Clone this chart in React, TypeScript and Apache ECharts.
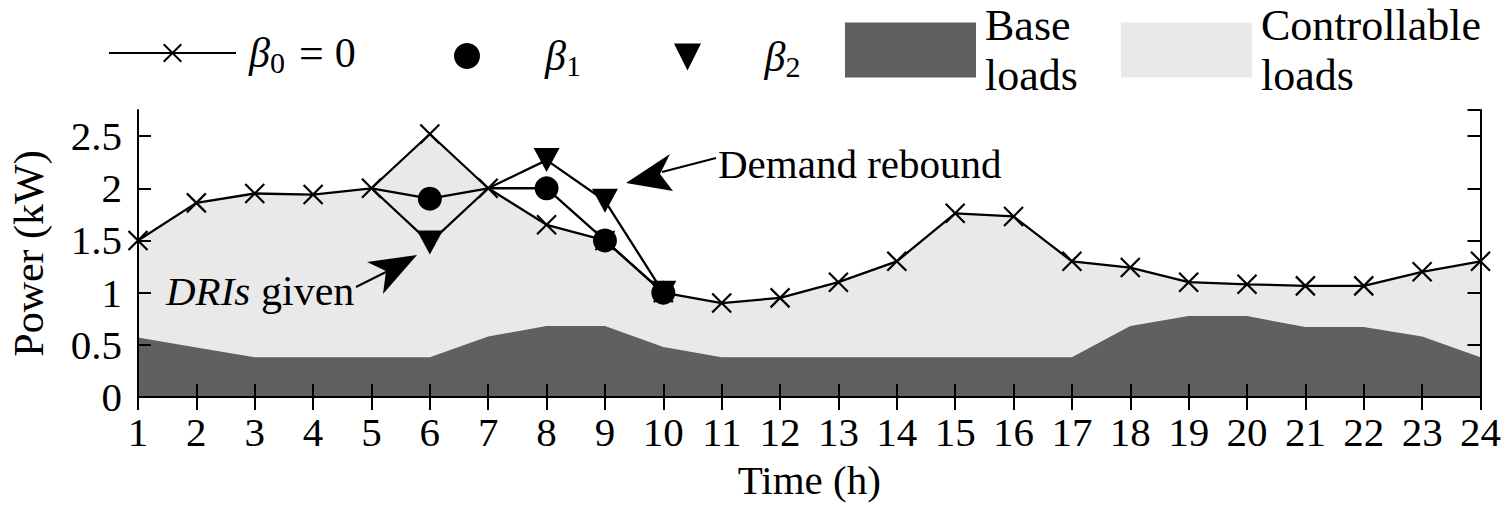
import React, { useEffect, useRef } from "react";
import * as echarts from "echarts";

const hours = [1, 2, 3, 4, 5, 6, 7, 8, 9, 10, 11, 12, 13, 14, 15, 16, 17, 18, 19, 20, 21, 22, 23, 24];
const beta0 = [1.5, 1.86, 1.95, 1.94, 2.0, 2.52, 2.0, 1.65, 1.5, 1.0, 0.9, 0.95, 1.1, 1.3, 1.76, 1.73, 1.3, 1.24, 1.1, 1.08, 1.065, 1.065, 1.2, 1.3];
const baseLoads = [0.57, 0.475, 0.38, 0.38, 0.38, 0.38, 0.58, 0.68, 0.68, 0.48, 0.38, 0.38, 0.38, 0.38, 0.38, 0.38, 0.38, 0.68, 0.775, 0.775, 0.67, 0.67, 0.58, 0.38];
const drHours = [5, 6, 7, 8, 9, 10];
const beta1 = [2.0, 1.9, 2.0, 2.0, 1.5, 1.0];
const beta2 = [2.0, 1.48, 2.0, 2.27, 1.88, 1.0];
const markedHours = [6, 8, 9, 10];
const yTicks = [0, 0.5, 1, 1.5, 2, 2.5];

const FONT = "Liberation Serif";
const DARK = "#606060";
const LIGHT = "#e9e9e9";
const CROSS = "path://M0,0L10,10M10,0L0,10";
const TRI_DOWN = "path://M0,0L10,0L5,10Z";

const pairs = (xs: number[], ys: number[]) => xs.map((x, i) => [x, ys[i]]);
const marked = (xs: number[], ys: number[]) =>
  xs.map((x, i) => (markedHours.includes(x) ? { value: [x, ys[i]] } : { value: [x, ys[i]], symbol: "none" }));

const rich = {
  b: { fontFamily: FONT, fontStyle: "italic", fontSize: 42, lineHeight: 44, color: "#000" },
  b0: { fontFamily: FONT, fontStyle: "italic", fontSize: 42, lineHeight: 44, color: "#000", padding: [0, 0, 0, 8] },
  s: { fontFamily: FONT, fontSize: 30, lineHeight: 44, padding: [18, 0, 0, 0], color: "#000" },
  e: { fontFamily: FONT, fontSize: 44, lineHeight: 44, color: "#000", padding: [0, 11, 0, 14] },
  n: { fontFamily: FONT, fontSize: 42, lineHeight: 44, color: "#000" },
};

const legendCommon = {
  orient: "horizontal",
  padding: 0,
  selectedMode: false,
};
const richText = { fontFamily: FONT, fontSize: 42, lineHeight: 44, color: "#000", rich };
const plainText = { fontFamily: FONT, fontSize: 44, lineHeight: 50, color: "#000", padding: [8, 0, 0, 4] };

export default function App() {
  const ref = useRef<HTMLDivElement>(null);
  useEffect(() => {
    if (!ref.current) return;
    const chart = echarts.init(ref.current, null, { renderer: "svg" });
    const axisCommon = {
      type: "value",
      axisLine: { show: true, lineStyle: { color: "#000", width: 2 } },
      axisTick: { show: true, inside: true, length: 13, lineStyle: { color: "#000", width: 2 } },
      splitLine: { show: false },
      z: 10,
    };
    chart.setOption({
      animation: false,
      backgroundColor: "#fff",
      grid: { left: 133, right: 23, top: 110, bottom: 108, containLabel: false },
      xAxis: [
        {
          ...axisCommon,
          position: "bottom",
          min: 1,
          max: 24,
          interval: 1,
          name: "Time (h)",
          nameLocation: "middle",
          nameGap: 62,
          nameTextStyle: { fontFamily: FONT, fontSize: 41, color: "#000" },
          axisLabel: { fontFamily: FONT, fontSize: 41, color: "#000", margin: 14 },
        },
        {
          ...axisCommon,
          position: "top",
          min: 1,
          max: 24,
          interval: 1,
          axisLabel: { show: false },
        },
      ],
      yAxis: [
        {
          ...axisCommon,
          position: "left",
          min: 0,
          max: 2.75,
          interval: 0.5,
          name: "Power (kW)",
          nameLocation: "middle",
          nameGap: 88,
          nameTextStyle: { fontFamily: FONT, fontSize: 42, color: "#000" },
          axisLabel: {
            fontFamily: FONT,
            fontSize: 41,
            color: "#000",
            margin: 16,
            showMaxLabel: false,
            formatter: (v: number) => (yTicks.includes(v) ? String(v) : ""),
          },
        },
        {
          ...axisCommon,
          position: "right",
          min: 0,
          max: 2.75,
          interval: 0.5,
          axisLabel: { show: false },
        },
      ],
      legend: [
        {
          ...legendCommon,
          textStyle: richText,
          data: [{ name: "beta0" }],
          left: 108,
          top: 29,
          itemWidth: 127,
          itemHeight: 22,
          formatter: () => "{b0|β}{s|0}{e|=}{n|0}",
        },
        {
          ...legendCommon,
          textStyle: richText,
          data: [{ name: "beta1", icon: "circle" }],
          left: 454,
          top: 32,
          itemWidth: 146,
          itemHeight: 26,
          formatter: () => "{b|β}{s|1}",
        },
        {
          ...legendCommon,
          textStyle: richText,
          data: [{ name: "beta2", icon: TRI_DOWN }],
          left: 674,
          top: 33,
          itemWidth: 144,
          itemHeight: 27,
          formatter: () => "{b|β}{s|2}",
        },
        {
          ...legendCommon,
          textStyle: plainText,
          data: [{ name: "Base loads", icon: "rect" }],
          left: 845,
          top: -4,
          itemWidth: 131,
          itemHeight: 55,
          formatter: () => "Base\nloads",
        },
        {
          ...legendCommon,
          textStyle: plainText,
          data: [{ name: "Controllable loads", icon: "rect" }],
          left: 1121,
          top: -4,
          itemWidth: 131,
          itemHeight: 55,
          formatter: () => "Controllable\nloads",
        },
      ],
      series: [
        {
          name: "Controllable loads",
          type: "line",
          data: pairs(hours, beta0),
          symbol: "none",
          lineStyle: { width: 0, color: LIGHT },
          itemStyle: { color: LIGHT },
          areaStyle: { color: LIGHT, opacity: 1 },
          z: 1,
        },
        {
          name: "Base loads",
          type: "line",
          data: pairs(hours, baseLoads),
          symbol: "none",
          lineStyle: { width: 0, color: DARK },
          itemStyle: { color: DARK },
          areaStyle: { color: DARK, opacity: 1 },
          z: 2,
        },
        {
          name: "beta0",
          type: "line",
          data: pairs(hours, beta0),
          symbol: CROSS,
          symbolSize: 19,
          showAllSymbol: true,
          lineStyle: { color: "#000", width: 2.3 },
          itemStyle: { color: "#000", borderColor: "#000", borderWidth: 2.2 },
          z: 5,
        },
        {
          name: "beta1",
          type: "line",
          data: marked(drHours, beta1),
          symbol: "circle",
          symbolSize: 24,
          showAllSymbol: true,
          lineStyle: { color: "#000", width: 2.3 },
          itemStyle: { color: "#000", borderWidth: 0 },
          z: 6,
        },
        {
          name: "beta2",
          type: "line",
          data: marked(drHours, beta2),
          symbol: TRI_DOWN,
          symbolSize: [26, 24],
          showAllSymbol: true,
          lineStyle: { color: "#000", width: 2.3 },
          itemStyle: { color: "#000", borderWidth: 0 },
          z: 6,
        },
      ],
      graphic: [
        {
          type: "text",
          left: 718,
          top: 143,
          z: 100,
          style: { text: "Demand rebound", fontFamily: FONT, fontSize: 41, fill: "#000" },
        },
        {
          type: "line",
          z: 100,
          shape: { x1: 662, y1: 172, x2: 716, y2: 158 },
          style: { stroke: "#000", lineWidth: 2 },
        },
        {
          type: "polygon",
          z: 100,
          shape: { points: [[626, 183], [670, 154], [660, 174], [673, 191]] },
          style: { fill: "#000" },
        },
        {
          type: "text",
          left: 166,
          top: 270,
          z: 100,
          style: { text: "DRIs", fontFamily: FONT, fontStyle: "italic", fontSize: 41, fill: "#000" },
        },
        {
          type: "text",
          left: 261,
          top: 270,
          z: 100,
          style: { text: "given", fontFamily: FONT, fontSize: 42, fill: "#000" },
        },
        {
          type: "line",
          z: 100,
          shape: { x1: 356, y1: 287, x2: 390, y2: 270 },
          style: { stroke: "#000", lineWidth: 2 },
        },
        {
          type: "polygon",
          z: 100,
          shape: { points: [[417, 255], [367, 262], [386, 271], [383, 294]] },
          style: { fill: "#000" },
        },
      ],
    });
    return () => chart.dispose();
  }, []);
  return (
    <div
      ref={ref}
      style={{ position: "fixed", left: 0, top: 0, width: 1504, height: 505, background: "#fff" }}
    />
  );
}
